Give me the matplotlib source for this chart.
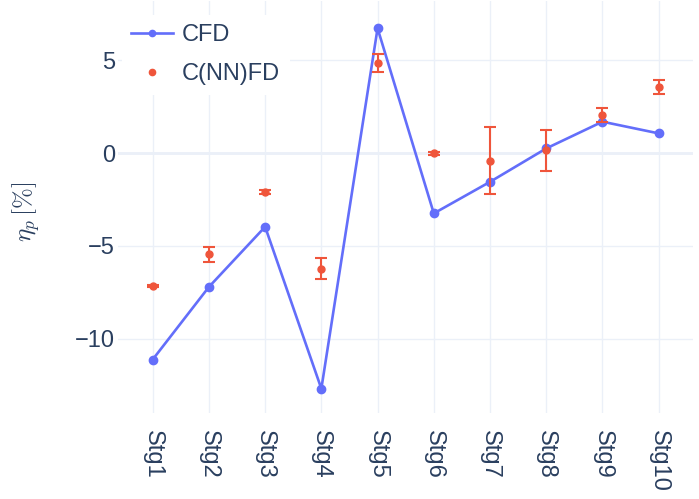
"""
Stage-wise efficiency deviation: CFD vs C(NN)FD prediction with uncertainty
"""

import matplotlib

matplotlib.use("Agg")
import matplotlib.pyplot as plt
import numpy as np
from matplotlib.lines import Line2D

stages = ["Stg1", "Stg2", "Stg3", "Stg4", "Stg5", "Stg6", "Stg7", "Stg8", "Stg9", "Stg10"]
cfd_vals = [-11.12, -7.21, -3.97, -12.69, 6.72, -3.25, -1.55, 0.25, 1.69, 1.06]
nn_vals = [-7.15, -5.46, -2.09, -6.22, 4.84, -0.02, -0.41, 0.16, 2.05, 3.54]
nn_err = [0.05, 0.4, 0.1, 0.55, 0.5, 0.1, 1.8, 1.1, 0.4, 0.38]

BLUE = "#636efa"
RED = "#EF553B"
GRID = "#EBF0F8"
TXT = "#2a3f5f"

plt.rcParams["font.family"] = ["Liberation Sans", "DejaVu Sans"]
plt.rcParams["mathtext.fontset"] = "cm"


def _main() -> None:
    fig = plt.figure(figsize=(6.99, 4.99), dpi=100)
    ax = fig.add_axes([0.1688, 0.1723, 0.8226, 0.8257])

    xpos = np.arange(len(stages))

    (cfd_line,) = ax.plot(
        xpos,
        cfd_vals,
        color=BLUE,
        linewidth=1.9,
        marker="o",
        markersize=6,
        zorder=4,
    )
    ax.errorbar(
        xpos,
        nn_vals,
        yerr=nn_err,
        fmt="o",
        color=RED,
        ecolor=RED,
        elinewidth=1.5,
        capsize=4,
        capthick=1.5,
        markersize=5,
        zorder=5,
    )

    # axes ranges
    ax.set_xlim(-0.617, 9.61)
    ax.set_ylim(-14.0, 8.19)

    ax.set_xticks(xpos)
    ax.set_xticklabels(stages, rotation=-90, fontsize=17, color=TXT)
    ax.set_yticks([-10, -5, 0, 5])
    ax.tick_params(axis="y", length=0, pad=2, labelsize=17, labelcolor=TXT)
    ax.tick_params(axis="x", length=0, pad=12)

    # grid in plotly-white style
    ax.grid(True, color=GRID, linewidth=1.0, zorder=0)
    ax.axhline(0, color=GRID, linewidth=2.0, zorder=0.5)
    ax.set_axisbelow(True)
    for sp in ax.spines.values():
        sp.set_visible(False)

    ax.set_ylabel(r"$\eta_p\,[\%]$", fontsize=18, color=TXT)
    ax.yaxis.set_label_coords(-0.132, 0.488)

    cfd_handle = Line2D([], [], marker="o", color=BLUE, linewidth=1.9, markersize=4.5)
    nn_handle = Line2D([], [], marker="o", linestyle="none", color=RED, markersize=4.5)
    leg = ax.legend(
        [cfd_handle, nn_handle],
        ["CFD", "C(NN)FD"],
        loc="upper left",
        bbox_to_anchor=(0.007, 0.966),
        borderaxespad=0.0,
        fontsize=17,
        frameon=True,
        facecolor="white",
        edgecolor="none",
        framealpha=1.0,
        handlelength=1.74,
        handletextpad=0.4,
        labelspacing=0.72,
    )
    for t in leg.get_texts():
        t.set_color(TXT)
    leg.set_zorder(10)

    fig.savefig("out.png", dpi=100)


if __name__ == "__main__":
    _main()
